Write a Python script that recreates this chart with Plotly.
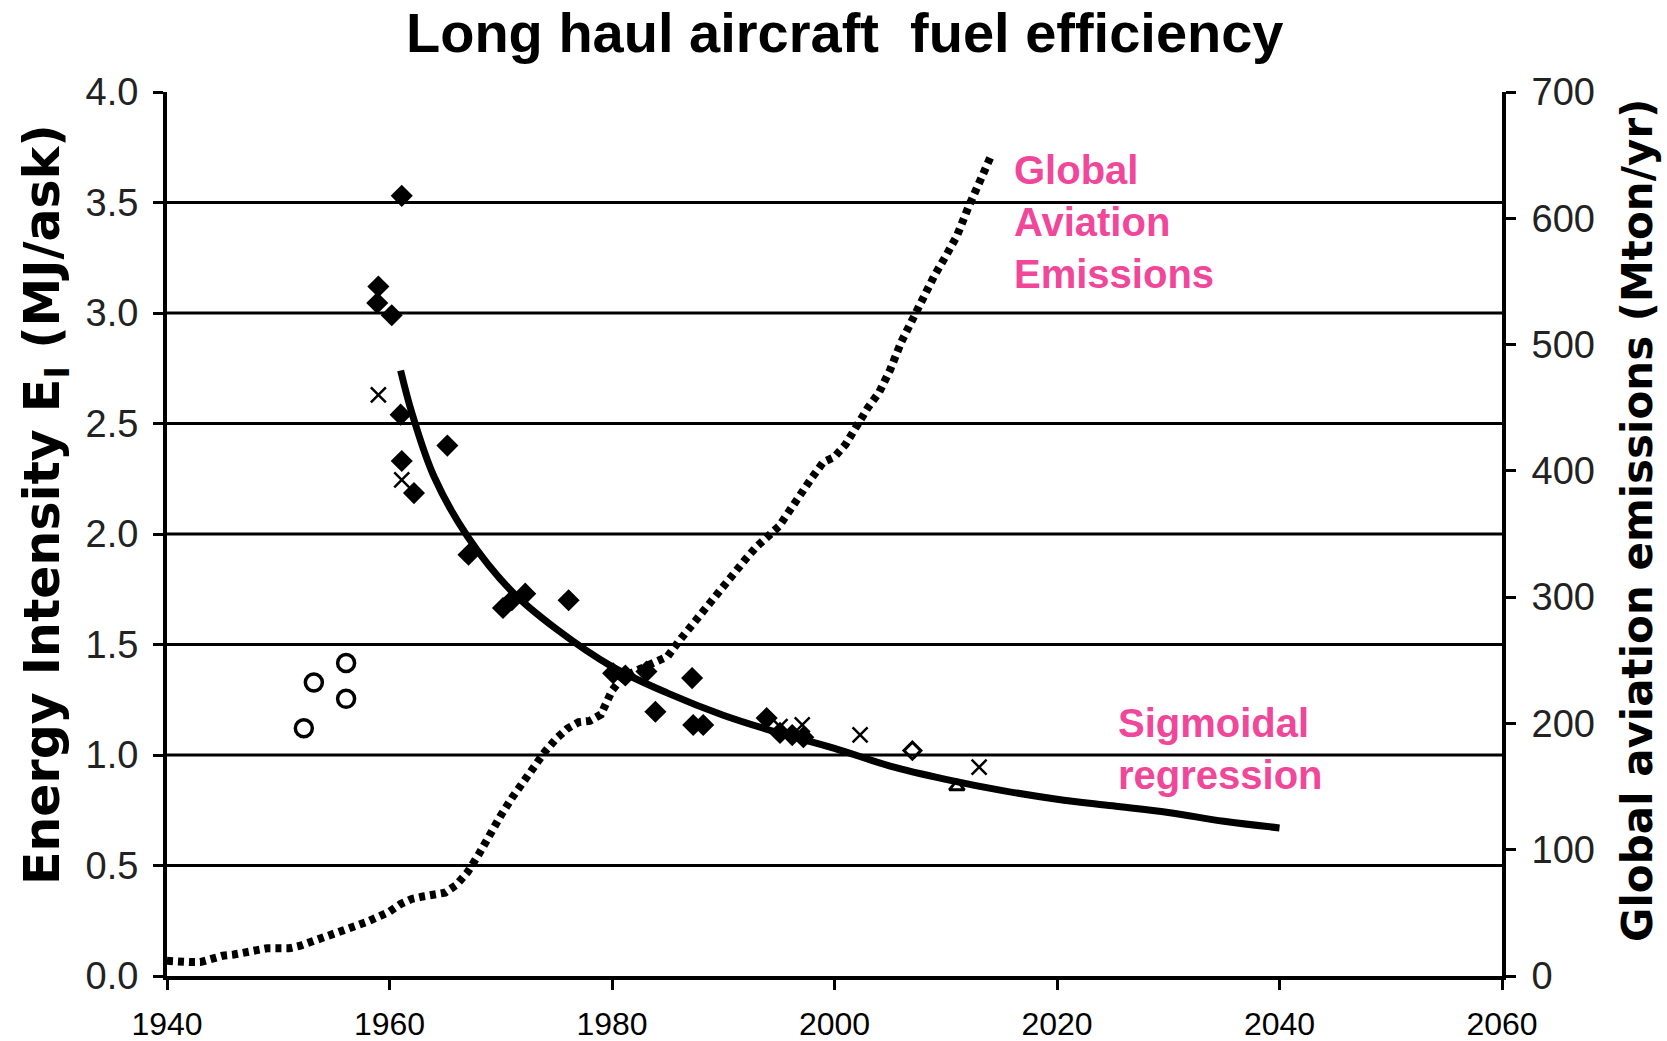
import plotly.graph_objects as go

# ---------------- data ----------------
emis_years = list(range(1940, 2015))
emis_values = [12, 11, 11, 11, 14, 16, 17, 19, 21, 22,
               22, 22, 24, 27, 30, 33, 36, 39, 43, 47,
               51, 57, 61, 63, 64, 66, 72, 82, 96, 113,
               127, 141, 154, 167, 178, 188, 196, 201, 202, 207,
               226, 237, 241, 246, 250, 253, 265, 276, 288, 299,
               310, 321, 330, 340, 347, 356, 369, 383, 395, 407,
               411, 421, 437, 450, 462, 480, 502, 520, 537, 555,
               570, 586, 608, 630, 648]

sig_years = [1961, 1962, 1964, 1967, 1971, 1975, 1980, 1985, 1990, 1995,
             2000, 2005, 2010, 2015, 2020, 2025, 2030, 2035, 2040]
sig_values = [2.74, 2.55, 2.26, 1.99, 1.74, 1.57, 1.40, 1.28, 1.18, 1.10,
              1.03, 0.95, 0.89, 0.84, 0.80, 0.77, 0.74, 0.70, 0.67]

filled_years = [1961.1, 1959.0, 1958.9, 1960.2, 1961.0, 1965.2, 1961.1, 1962.2,
                1967.1, 1970.2, 1971.0, 1972.2, 1976.1, 1980.1, 1981.2, 1983.1,
                1987.2, 1983.9, 1987.3, 1988.2, 1993.9, 1995.1, 1996.2, 1997.2]
filled_values = [3.53, 3.12, 3.045, 2.99, 2.54, 2.40, 2.33, 2.185,
                 1.906, 1.665, 1.70, 1.73, 1.70, 1.37, 1.36, 1.378,
                 1.348, 1.196, 1.136, 1.136, 1.167, 1.10, 1.09, 1.08]

cross_years = [1959.0, 1961.1, 1995.1, 1997.1, 2002.3, 2013.0]
cross_values = [2.63, 2.245, 1.128, 1.136, 1.091, 0.945]

circle_years = [1952.3, 1953.2, 1956.1, 1956.1]
circle_values = [1.121, 1.328, 1.416, 1.254]

odiamond_years = [2007.0]
odiamond_values = [1.02]

triangle_years = [2011.0]
triangle_values = [0.857]

x_ticks = [1940, 1960, 1980, 2000, 2020, 2040, 2060]
y_ticks = [0.0, 0.5, 1.0, 1.5, 2.0, 2.5, 3.0, 3.5, 4.0]
y_grid = [0.5, 1.0, 1.5, 2.0, 2.5, 3.0, 3.5]
y2_ticks = [0, 100, 200, 300, 400, 500, 600, 700]

title_text = "Long haul aircraft  fuel efficiency"
left_title = "Energy Intensity E<sub>I</sub> (MJ/ask)"
right_title = "Global aviation emissions (Mton/yr)"
label_emis = "Global<br>Aviation<br>Emissions"
label_sig = "Sigmoidal<br>regression"

# ---------------- figure ----------------
PINK = "#F0479A"
FONT = "Liberation Sans, Arial, sans-serif"
TITLEFONT = "DejaVu Sans, sans-serif"

fig = go.Figure()

fig.add_trace(go.Scatter(
    x=emis_years, y=emis_values, yaxis="y2", mode="lines",
    line=dict(color="black", width=8, dash="6px,5px"),
    showlegend=False, hoverinfo="skip"))

fig.add_trace(go.Scatter(
    x=sig_years, y=sig_values, mode="lines",
    line=dict(color="black", width=7, shape="spline"),
    showlegend=False))

fig.add_trace(go.Scatter(
    x=filled_years, y=filled_values, mode="markers",
    marker=dict(symbol="diamond", size=17, color="black"),
    showlegend=False))

fig.add_trace(go.Scatter(
    x=cross_years, y=cross_values, mode="markers",
    marker=dict(symbol="x-thin", size=15, color="black",
                line=dict(color="black", width=2.5)),
    showlegend=False))

fig.add_trace(go.Scatter(
    x=circle_years, y=circle_values, mode="markers",
    marker=dict(symbol="circle-open", size=17, color="black",
                line=dict(color="black", width=3.5)),
    showlegend=False))

fig.add_trace(go.Scatter(
    x=odiamond_years, y=odiamond_values, mode="markers",
    marker=dict(symbol="diamond-open", size=13, color="black",
                line=dict(color="black", width=3)),
    showlegend=False))

fig.add_trace(go.Scatter(
    x=triangle_years, y=triangle_values, mode="markers",
    marker=dict(symbol="triangle-up-open", size=13, color="black",
                line=dict(color="black", width=3)),
    showlegend=False))

shapes = []
for g in y_grid:
    shapes.append(dict(type="line", xref="paper", x0=0, x1=1, yref="y", y0=g, y1=g,
                       line=dict(color="black", width=3), layer="below"))

annotations = [
    dict(text=title_text, x=845, y=32,
         font=dict(family=FONT, size=56, color="black", weight="bold")),
    dict(text=left_title, x=45, y=505, textangle=-90,
         font=dict(family=TITLEFONT, size=49, color="black", weight="bold")),
    dict(text=right_title, x=1637, y=521, textangle=-90,
         font=dict(family=TITLEFONT, size=42, color="black", weight="bold")),
    dict(text=label_emis, x=1012, y=222, xanchor="left", align="left",
         font=dict(family=FONT, size=40, color=PINK, weight="bold")),
    dict(text=label_sig, x=1116, y=749, xanchor="left", align="left",
         font=dict(family=FONT, size=40, color=PINK, weight="bold")),
]

W, H = 1667, 1041
L, R, T, B = 167, 165, 92, 65
# convert pixel positions to paper coords
for a in annotations:
    px, py = a["x"], a["y"]
    a["x"] = (px - L) / (W - L - R)
    a["y"] = 1 - (py - T) / (H - T - B)
    a["xref"] = "paper"
    a["yref"] = "paper"
    a["showarrow"] = False
    a.setdefault("xanchor", "center")
    a["yanchor"] = "middle"

fig.update_layout(
    width=W, height=H,
    margin=dict(l=L, r=R, t=T, b=B, autoexpand=False),
    paper_bgcolor="white", plot_bgcolor="white",
    font=dict(family=FONT, color="black"),
    shapes=shapes, annotations=annotations,
    xaxis=dict(range=[1940, 2060], tickvals=x_ticks, ticktext=[str(v) for v in x_ticks],
               showgrid=False, zeroline=False, showline=True, linecolor="black", linewidth=4,
               ticks="outside", ticklen=10, tickwidth=3, tickcolor="black", automargin=False,
               tickfont=dict(size=32, color="black"), ticklabelstandoff=7),
    yaxis=dict(range=[0, 4.0], tickvals=y_ticks, ticktext=[f"{v:.1f}" for v in y_ticks],
               showgrid=False, zeroline=False, showline=True, linecolor="black", linewidth=4,
               ticks="outside", ticklen=10, tickwidth=3, tickcolor="black", automargin=False,
               tickfont=dict(size=38, color="#222"), ticklabelstandoff=7),
    yaxis2=dict(range=[0, 700], tickvals=y2_ticks, overlaying="y", side="right",
                showgrid=False, zeroline=False, showline=True, linecolor="black", linewidth=4,
                ticks="outside", ticklen=10, tickwidth=3, tickcolor="black", automargin=False,
                tickfont=dict(size=38, color="#222"), ticklabelstandoff=8),
)

fig.write_html("out.html", config={"displayModeBar": False},
               post_script="document.body.style.margin='0px';")
